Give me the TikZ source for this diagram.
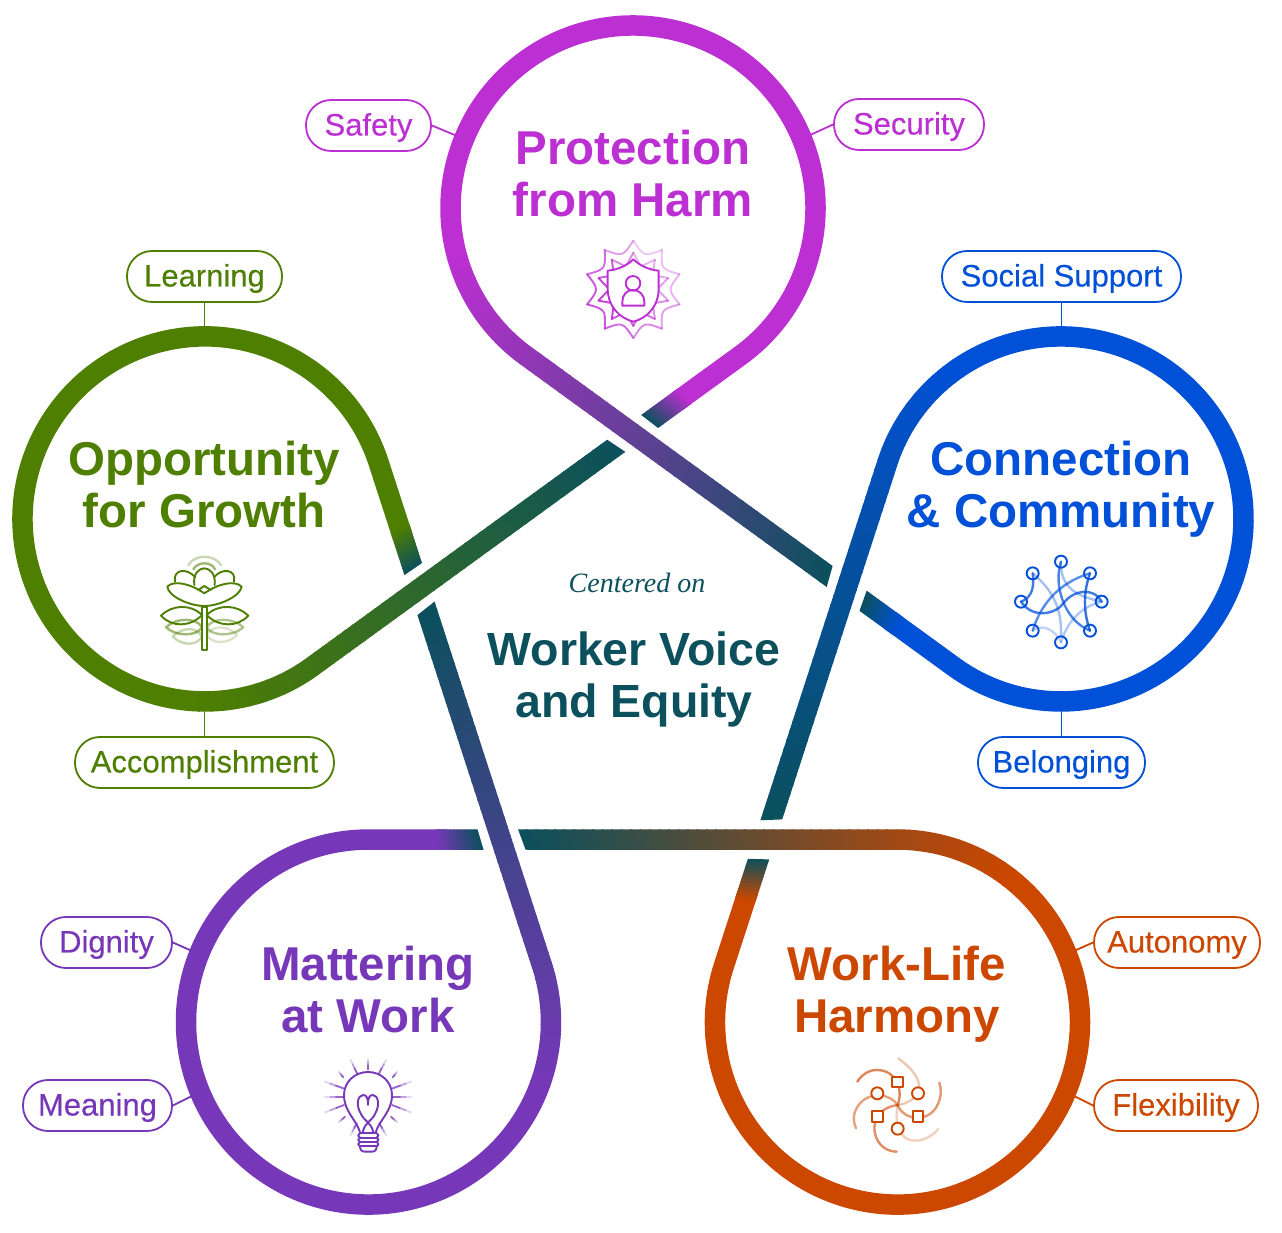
\documentclass[tikz,border=0pt]{standalone}
\usepackage{fontspec}
\setmainfont{Liberation Sans}
\newfontfamily\serifit{Liberation Serif}
\newfontfamily\pillfont[FakeBold=0.25]{Liberation Sans}
\definecolor{cmag}{HTML}{BC2FD2}
\definecolor{cblue}{HTML}{0050D8}
\definecolor{corange}{HTML}{CC4700}
\definecolor{cpurple}{HTML}{7638B8}
\definecolor{cgreen}{HTML}{4F7F00}
\definecolor{cteal}{HTML}{0B505C}
\tikzset{
  pill/.style={draw=#1,text=#1,fill=white,line width=1.8pt,rounded corners=25pt,minimum height=51pt,inner sep=0pt,text height=20pt,text depth=0pt,font=\pillfont\fontsize{31}{32}\selectfont},
  lnk/.style={draw=#1,line width=1.8pt},
  title/.style={text=#1,anchor=base,align=center,inner sep=0pt,font=\fontsize{47.5}{52}\selectfont\bfseries},
  ic/.style={draw=#1,line width=1.9pt,line join=round,line cap=round},
  strand/.style={draw=#1,line width=2.4pt,line join=round,line cap=round},
  zoomframe/.style={x=.33333pt,y=-.33333pt},
}
\newlength{\lw}\setlength{\lw}{20.5pt}
% one petal, drawn in the frame of the top one and turned round the centre of the pentagon
\newcommand{\petal}[2]{%
 \begin{scope}[rotate around={#2:(633,574)}]
  \draw[line width=\lw,draw=#1] ({740.3-.70*90.65},{876.4-.70*65.85}) -- ({633+182.5*cos(-54)},{1024+182.5*sin(-54)}) arc[start angle=-54,end angle=196.5,radius=182.5];
  \foreach \i in {0,...,9}{%
    \pgfmathsetmacro\aa{196+\i*3.8}
    \pgfmathsetmacro\ab{\aa+4.1}
    \pgfmathsetmacro\mixv{100-23*\i/10-1.1}
    \draw[line width=\lw,draw=#1!\mixv!cteal] ({633+182.5*cos(\aa)},{1024+182.5*sin(\aa)}) arc[start angle=\aa,end angle=\ab,radius=182.5];
  }
  \foreach \i in {0,...,39}{%
    \pgfmathsetmacro\ta{\i/40}
    \pgfmathsetmacro\tb{min((\i+1.2)/40,1)}
    \pgfmathsetmacro\mixv{77*(1-(\i+.5)/40)}
    \fill[#1!\mixv!cteal]
      ({519.7+\ta*307},{868.1-\ta*223.1}) -- ({519.7+\tb*307},{868.1-\tb*223.1}) --
      ({531.7+\tb*300.9},{884.7-\tb*218.7}) -- ({531.7+\ta*300.9},{884.7-\ta*218.7}) -- cycle;
  }
  \foreach \i in {0,...,11}{%
    \pgfmathsetmacro\ta{.615+\i*.385/12}
    \pgfmathsetmacro\tb{min(\ta+.385/12*1.2,1)}
    \pgfmathsetmacro\mixv{100*(1-(\i+.5)/12)}
    \fill[#1!\mixv!cteal]
      ({746.3-\ta*88.2},{868.1-\ta*64.1}) -- ({746.3-\tb*88.2},{868.1-\tb*64.1}) --
      ({734.3-\tb*93.1},{884.7-\tb*67.7}) -- ({734.3-\ta*93.1},{884.7-\ta*67.7}) -- cycle;
  }
 \end{scope}}
\newcommand{\rayline}[5]{% x1 y1 x2 y2 colour: fades outward
  \draw[ic=#5,opacity=.75] (#1,#2) -- ({#1+.4*(#3-#1)},{#2+.4*(#4-#2)});
  \draw[ic=#5,opacity=.45] ({#1+.4*(#3-#1)},{#2+.4*(#4-#2)}) -- ({#1+.7*(#3-#1)},{#2+.7*(#4-#2)});
  \draw[ic=#5,opacity=.2] ({#1+.7*(#3-#1)},{#2+.7*(#4-#2)}) -- (#3,#4);}
\begin{document}
\begin{tikzpicture}[x=1pt,y=1pt]
\useasboundingbox (0,0) rectangle (1282,1232);
\fill[white] (0,0) rectangle (1282,1232);

% pills
\node[pill=cmag,minimum width=125pt] (safety) at (368.5,1106.5) {Safety};
\node[pill=cmag,minimum width=150pt] (security) at (909,1107.5) {Security};
\node[pill=cgreen,minimum width=155pt] (learning) at (204.5,955.5) {Learning};
\node[pill=cblue,minimum width=239pt] (social) at (1061.5,955.5) {Social Support};
\node[pill=cgreen,minimum width=259pt] (accomp) at (204.5,469.5) {Accomplishment};
\node[pill=cblue,minimum width=167pt] (belong) at (1061.5,469.5) {Belonging};
\node[pill=cpurple,minimum width=131pt] (dignity) at (106.5,289.5) {Dignity};
\node[pill=cpurple,minimum width=149pt] (meaning) at (97.5,126.5) {Meaning};
\node[pill=corange,minimum width=166pt] (autonomy) at (1177,289.5) {Autonomy};
\node[pill=corange,minimum width=164pt] (flex) at (1176,126.5) {Flexibility};

% connectors
\coordinate (csafety) at (457,1096);
\coordinate (csecurity) at (808,1096);
\coordinate (clearning) at (204.5,900);
\coordinate (csocial) at (1061.5,900);
\coordinate (caccomp) at (204.5,525);
\coordinate (cbelong) at (1061.5,525);
\coordinate (cdignity) at (192,281);
\coordinate (cmeaning) at (192,136);
\coordinate (cautonomy) at (1074,281);
\coordinate (cflex) at (1074,136);
\draw[lnk=cmag] (safety.east) -- (csafety);
\draw[lnk=cmag] (security.west) -- (csecurity);
\draw[lnk=cgreen] (learning.south) -- (clearning);
\draw[lnk=cblue] (social.south) -- (csocial);
\draw[lnk=cgreen] (accomp.north) -- (caccomp);
\draw[lnk=cblue] (belong.north) -- (cbelong);
\draw[lnk=cpurple] (dignity.east) -- (cdignity);
\draw[lnk=cpurple] (meaning.east) -- (cmeaning);
\draw[lnk=corange] (autonomy.west) -- (cautonomy);
\draw[lnk=corange] (flex.west) -- (cflex);

% petals
\petal{cmag}{0}
\petal{cblue}{-72}
\petal{corange}{-144}
\petal{cpurple}{-216}
\petal{cgreen}{-288}

% titles (anchor base is the baseline of the last line)
\node[title=cmag] (ttop) at (633,1015) {Protection\\from Harm};
\node[title=cgreen] (tleft) at (204,704) {Opportunity\\for Growth};
\node[title=cblue] (tright) at (1061,704) {Connection\\\& Community};
\node[title=cpurple] (tbl) at (368,200) {Mattering\\at Work};
\node[title=corange] (tbr) at (897,200) {Work-Life\\Harmony};
\node[text=cteal,anchor=base,inner sep=0pt,font=\serifit\itshape\fontsize{28}{30}\selectfont] (cent) at (637,639) {Centered on};
\node[title=cteal,font=\fontsize{46.5}{52}\selectfont\bfseries] (tmid) at (634,514) {Worker Voice\\and Equity};

% shield icon
\begin{scope}[shift={(560,1012)},zoomframe]
  \foreach \a/\o in {0/.25,36/.3,72/.35,108/.45,144/.55,180/.7,216/.8,252/.8,288/.7,324/.45}{%
    \draw[ic=cmag,opacity=\o]
      ({220+146*sin(\a)},{208-146*cos(\a)}) .. controls ({220+103*sin(\a+18)},{208-103*cos(\a+18)}) .. ({220+146*sin(\a+36)},{208-146*cos(\a+36)});
    \draw[ic=cmag,opacity=\o+.1]
      ({220+110*sin(\a)},{208-110*cos(\a)}) -- ({220+72*sin(\a+18)},{208-72*cos(\a+18)}) -- ({220+110*sin(\a+36)},{208-110*cos(\a+36)});
  }
  \draw[ic=cmag,fill=white] (220,118) .. controls (200,138) and (170,150) .. (143,152) -- (143,205) .. controls (143,260) and (180,295) .. (220,305)
     .. controls (260,295) and (296,260) .. (296,205) -- (296,152) .. controls (270,150) and (240,138) .. (220,118) -- cycle;
  \draw[ic=cmag] (219,190) circle[radius=7.3pt];
  \draw[ic=cmag] (187,257) -- (187,245) .. controls (187,225) and (200,210) .. (219,210) .. controls (238,210) and (253,225) .. (253,245) -- (253,257) -- cycle;
\end{scope}

% flower icon
\begin{scope}[shift={(140,692)},zoomframe]
  \draw[strand=cgreen,opacity=.3] (145,75) .. controls (165,42) and (222,42) .. (243,75);
  \draw[strand=cgreen,opacity=.55] (160,88) .. controls (172,64) and (215,64) .. (225,88);
  \foreach \o/\la/\lb/\lc/\ra/\rb in {.3/98/135/290/292/285,.55/78/125/262/310/262}{%
    \draw[strand=cgreen,opacity=\o] (\la,\lc) .. controls ({\la+30},{\lc-30}) and (170,{\lc-30}) .. (186,\lc) .. controls (170,{\lc+28}) and ({\la+30},{\lc+28}) .. (\la,\lc);
    \draw[strand=cgreen,opacity=\o-.1] (\ra,\rb) .. controls ({\ra-30},{\rb-30}) and (216,{\rb-30}) .. (200,\rb) .. controls (216,{\rb+28}) and ({\ra-30},{\rb+28}) .. (\ra,\rb);
  }
  \draw[ic=cgreen] (186,200) rectangle (200,330);
  \draw[ic=cgreen] (63,227) .. controls (95,195) and (150,190) .. (186,225) .. controls (150,262) and (95,262) .. (63,227) -- cycle;
  \draw[ic=cgreen] (325,227) .. controls (293,195) and (236,190) .. (200,225) .. controls (236,262) and (293,262) .. (325,227) -- cycle;
  \draw[ic=cgreen] (105,125) .. controls (98,88) and (140,82) .. (166,112);
  \draw[ic=cgreen] (282,125) .. controls (290,88) and (246,82) .. (222,112);
  \draw[ic=cgreen] (163,135) .. controls (158,100) and (178,85) .. (193,85) .. controls (208,85) and (228,100) .. (224,135);
  \draw[ic=cgreen] (175,150) -- (193,138) -- (212,150);
  \draw[ic=cgreen] (193,160) .. controls (150,130) and (100,120) .. (82,140) .. controls (85,170) and (150,198) .. (193,198) .. controls (236,198) and (300,170) .. (305,140) .. controls (285,120) and (236,130) .. (193,160) -- cycle;
\end{scope}

% network icon
\begin{scope}[shift={(1000,692)},zoomframe]
  \draw[strand=cblue,opacity=.75] (98,100) .. controls (105,150) and (90,175) .. (63,185);
  \draw[strand=cblue,opacity=.35] (98,100) .. controls (170,160) and (185,220) .. (183,290);
  \draw[strand=cblue,opacity=.75] (63,185) .. controls (100,240) and (170,220) .. (190,190) .. controls (220,150) and (280,140) .. (305,185);
  \draw[strand=cblue,opacity=.65] (270,100) .. controls (170,130) and (120,200) .. (98,272);
  \draw[strand=cblue,opacity=.8] (270,100) .. controls (245,170) and (255,230) .. (270,272);
  \draw[strand=cblue,opacity=.7] (183,65) .. controls (160,130) and (190,240) .. (270,272);
  \draw[strand=cblue,opacity=.35] (183,65) .. controls (180,150) and (240,170) .. (305,185);
  \draw[strand=cblue,opacity=.25] (98,272) .. controls (130,250) and (165,270) .. (183,307);
  \draw[strand=cblue,opacity=.3] (305,185) .. controls (240,200) and (200,250) .. (183,307);
  \foreach \x/\y in {183/65,270/100,305/185,270/272,183/307,98/272,63/185,98/100}{
    \draw[ic=cblue] (\x,\y) circle[radius=6pt];}
\end{scope}

% bulb icon
\begin{scope}[shift={(310,182)},zoomframe]
  \foreach \xa/\ya/\xb/\yb in {174/58/174/28,142/72/122/30,206/72/228/30,100/82/86/65,248/82/262/65,100/115/45/95,248/115/303/95,100/142/45/142,248/142/303/142,102/165/45/187,246/165/303/187,105/200/86/217,243/200/262/217,140/220/122/255,208/220/228/255}{
    \rayline{\xa}{\ya}{\xb}{\yb}{cpurple}}
  \draw[ic=cpurple] (150,247) .. controls (140,210) and (102,185) .. (102,135) .. controls (102,95) and (135,66) .. (174,66) .. controls (213,66) and (246,95) .. (246,135) .. controls (246,185) and (208,210) .. (197,247);
  \draw[ic=cpurple] (158,247) .. controls (165,215) and (185,215) .. (196,190) .. controls (210,165) and (205,135) .. (188,135) .. controls (178,135) and (174,145) .. (174,165) .. controls (174,145) and (170,135) .. (160,135) .. controls (143,135) and (137,165) .. (152,190) .. controls (163,215) and (183,215) .. (190,247);
  \foreach \y in {250,263,276,289}{\draw[ic=cpurple] (150,\y) -- (200,\y);}
  \draw[ic=cpurple] (150,250) .. controls (143,256) and (143,258) .. (150,263) .. controls (143,269) and (143,271) .. (150,276) .. controls (143,282) and (143,285) .. (150,289) .. controls (150,300) and (155,305) .. (165,305) -- (185,305) .. controls (195,305) and (200,300) .. (200,289) .. controls (207,285) and (207,282) .. (200,276) .. controls (207,271) and (207,269) .. (200,263) .. controls (207,258) and (207,256) .. (200,250);
\end{scope}

% swirl icon
\begin{scope}[shift={(840,182)},zoomframe]
  \draw[strand=corange,opacity=.65] (173,165) .. controls (190,120) and (170,60) .. (110,60) .. controls (85,60) and (65,75) .. (52,95);
  \draw[strand=corange,opacity=.3] (173,165) .. controls (220,160) and (290,110) .. (175,25);
  \draw[strand=corange,opacity=.55] (173,165) .. controls (190,210) and (260,220) .. (290,170) .. controls (305,140) and (305,120) .. (298,98);
  \draw[strand=corange,opacity=.25] (173,165) .. controls (165,210) and (170,270) .. (225,272) .. controls (255,272) and (280,255) .. (295,237);
  \draw[strand=corange,opacity=.6] (173,165) .. controls (130,170) and (95,200) .. (105,250) .. controls (112,285) and (140,305) .. (170,305);
  \draw[strand=corange,opacity=.5] (173,165) .. controls (150,130) and (90,125) .. (60,160) .. controls (35,190) and (40,215) .. (48,235);
  \foreach \x/\y in {173/96,234/200,112/200}{
    \draw[ic=corange,fill=white] ({\x-16},{\y-16}) rectangle ({\x+16},{\y+16});}
  \foreach \x/\y in {234/130,173/236,112/130}{
    \draw[ic=corange,fill=white] (\x,\y) circle[radius=6pt];}
\end{scope}
\end{tikzpicture}
\end{document}
